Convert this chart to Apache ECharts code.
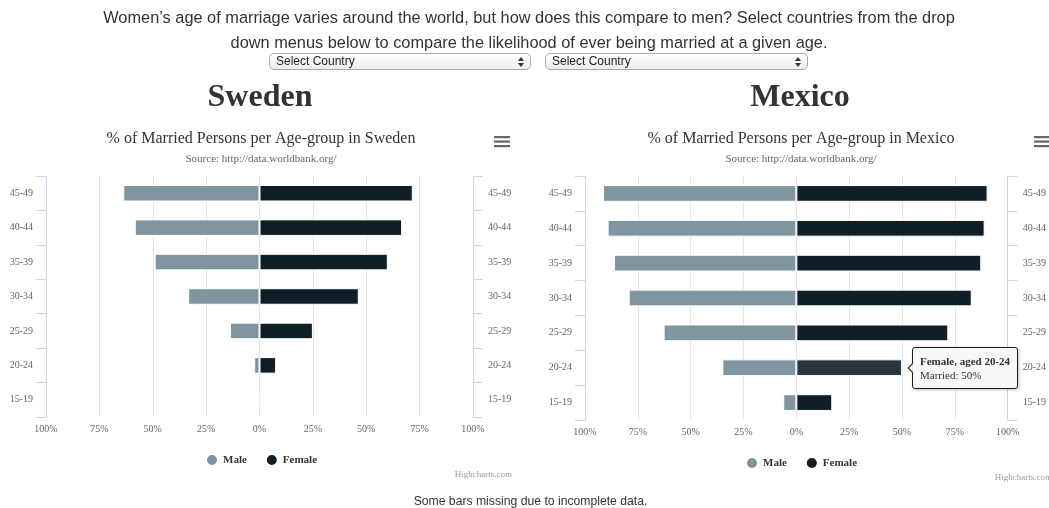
<!DOCTYPE html>
<html>
<head>
<meta charset="utf-8">
<script src="https://cdn.jsdelivr.net/npm/echarts@6/dist/echarts.min.js"></script>
<style>
html,body{margin:0;padding:0;background:#fff;width:1049px;height:508px;overflow:hidden;}
#chart{position:absolute;left:0;top:0;width:1049px;height:508px;}
.intro{position:absolute;left:0;width:1058px;text-align:center;font-family:"Liberation Sans",Arial,Helvetica,sans-serif;font-size:16.35px;color:#333;z-index:2;white-space:nowrap;}
.sel{position:absolute;top:53px;height:17px;box-sizing:border-box;border:1px solid #a9a9a9;border-radius:5px;background:linear-gradient(#ffffff,#ececec);font-family:"Liberation Sans",Arial,sans-serif;font-size:12px;line-height:15px;color:#222;padding-left:6px;z-index:2;}
.sel .arr{position:absolute;right:6px;top:3px;width:6px;height:10px;}
.sel .arr:before{content:"";position:absolute;left:0;top:0;border-left:3px solid transparent;border-right:3px solid transparent;border-bottom:4px solid #333;}
.sel .arr:after{content:"";position:absolute;left:0;top:6px;border-left:3px solid transparent;border-right:3px solid transparent;border-top:4px solid #333;}
.note{position:absolute;left:0;width:1061px;top:494px;text-align:center;font-family:"Liberation Sans",Arial,sans-serif;font-size:12.2px;color:#333;z-index:2;}
</style>
</head>
<body>
<div id="chart"></div>
<div class="intro" style="top:8px;">Women’s age of marriage varies around the world, but how does this compare to men? Select countries from the drop</div>
<div class="intro" style="top:33px;">down menus below to compare the likelihood of ever being married at a given age.</div>
<div class="sel" style="left:269px;width:262px;">Select Country<span class="arr"></span></div>
<div class="sel" style="left:545px;width:263px;">Select Country<span class="arr"></span></div>
<div class="note">Some bars missing due to incomplete data.</div>
<script>
// ---- data ----
const ageGroups = ['15-19', '20-24', '25-29', '30-34', '35-39', '40-44', '45-49'];
const swedenMale   = [null, 2.5, 13.8, 33.4, 49.1, 58.4, 63.8];
const swedenFemale = [0.7, 7.8, 25.0, 46.5, 60.1, 66.8, 71.8];
const mexicoMale   = [6.2, 35.0, 62.8, 79.3, 86.3, 89.3, 91.5];
const mexicoFemale = [17.0, 50.0, 71.9, 83.0, 87.5, 89.1, 90.5];
const countries = ['Sweden', 'Mexico'];
const seriesNames = ['Male', 'Female'];
const axisMin = -100, axisMax = 100, axisStep = 25;

// ---- styles ----
const SERIF = '"Liberation Serif","Times New Roman",Times,serif';
const MALE_COLOR = '#7f959f';
const FEMALE_COLOR = '#101e27';

const chart = echarts.init(document.getElementById('chart'), null, {renderer: 'canvas'});

const panels = [
  {grid: {left: 46, top: 176, width: 427, height: 241}, off: 0, legendTop: 453, credY: 475, labMargin: 7},
  {grid: {left: 585, top: 176, width: 428.5, height: 244}, off: 540, legendTop: 456, credY: 478, labMargin: 7}
];

const grids = [], xAxes = [], yAxes = [], series = [], legends = [], graphics = [];

function valueAxis(gi, margin) {
  return {
    type: 'value', gridIndex: gi, min: axisMin, max: axisMax, interval: axisStep,
    axisLine: {show: false}, axisTick: {show: false},
    splitLine: {show: true, lineStyle: {color: '#e6e6e6', width: 1}},
    axisLabel: {formatter: v => Math.abs(v) + '%', fontFamily: SERIF, fontSize: 10, color: '#666', margin: margin}
  };
}
function catAxis(gi, pos) {
  return {
    type: 'category', gridIndex: gi, position: pos, data: ageGroups,
    axisLine: {show: true, onZero: false, lineStyle: {color: '#ccd6eb', width: 1}},
    axisTick: {show: true, length: 10, lineStyle: {color: '#ccd6eb'}},
    axisLabel: {fontFamily: SERIF, fontSize: 10, color: '#666', margin: pos === 'left' ? 13 : 15},
    splitLine: {show: false}
  };
}

const dataSets = [[swedenMale, swedenFemale], [mexicoMale, mexicoFemale]];

panels.forEach((p, i) => {
  grids.push(Object.assign({containLabel: false}, p.grid));
  xAxes.push(valueAxis(i, p.labMargin));
  yAxes.push(catAxis(i, 'left'));
  yAxes.push(catAxis(i, 'right'));
  const [maleVals, femaleVals] = dataSets[i];
  series.push({
    name: seriesNames[0], type: 'bar', xAxisIndex: i, yAxisIndex: i * 2, stack: 'pyr' + i,
    barWidth: '48%',
    data: maleVals.map(v => v == null ? '-' : -v),
    itemStyle: {color: MALE_COLOR, borderColor: '#fff', borderWidth: 1},
    emphasis: {disabled: true}
  });
  series.push({
    name: seriesNames[1], type: 'bar', xAxisIndex: i, yAxisIndex: i * 2, stack: 'pyr' + i,
    barWidth: '48%',
    data: femaleVals.map(v => v == null ? '-' : v),
    itemStyle: {color: FEMALE_COLOR, borderColor: '#fff', borderWidth: 1},
    emphasis: i === 1 ? {itemStyle: {color: '#273640', borderColor: '#fff', borderWidth: 1}} : {disabled: true}
  });
  legends.push({
    data: seriesNames, left: 205 + p.off, top: p.legendTop, orient: 'horizontal', padding: 0,
    icon: 'circle', itemWidth: 12, itemHeight: 12, itemGap: 18,
    textStyle: {fontFamily: SERIF, fontSize: 11, fontWeight: 'bold', color: '#333'}
  });
  // country heading
  graphics.push({type: 'text', x: 260 + p.off, y: 98, style: {text: countries[i], font: 'bold 32px ' + SERIF, fill: '#333', align: 'center', verticalAlign: 'middle'}});
  // chart title & subtitle
  graphics.push({type: 'text', x: 261 + p.off, y: 139, style: {text: '% of Married Persons per Age-group in ' + countries[i], font: '16px ' + SERIF, fill: '#333', align: 'center', verticalAlign: 'middle'}});
  graphics.push({type: 'text', x: 261 + p.off, y: 159, style: {text: 'Source: http://data.worldbank.org/', font: '11px ' + SERIF, fill: '#666', align: 'center', verticalAlign: 'middle'}});
  // credits
  graphics.push({type: 'text', x: 512 + p.off, y: p.credY, style: {text: 'Highcharts.com', font: '9px ' + SERIF, fill: '#999', align: 'right', verticalAlign: 'middle'}});
  // context menu icon
  [136, 140.5, 145].forEach(yy => {
    graphics.push({type: 'rect', shape: {x: 494 + p.off, y: yy, width: 16, height: 2.2}, style: {fill: '#666'}});
  });
});

const option = {
  animation: false,
  backgroundColor: '#fff',
  grid: grids,
  xAxis: xAxes,
  yAxis: yAxes,
  legend: legends,
  series: series,
  graphic: graphics,
  tooltip: {
    trigger: 'item', position: 'right', alwaysShowContent: true, transitionDuration: 0,
    backgroundColor: 'rgba(247,247,247,0.92)', borderColor: FEMALE_COLOR, borderWidth: 1, borderRadius: 3,
    padding: [6, 7],
    textStyle: {fontFamily: SERIF, fontSize: 11, color: '#333'},
    extraCssText: 'box-shadow:1px 1px 3px rgba(0,0,0,0.25);line-height:14px;',
    formatter: p => '<b>' + p.seriesName + ', aged ' + p.name + '</b><br/>Married: ' + Math.round(Math.abs(p.value)) + '%'
  }
};
chart.setOption(option);
const tipIndex = ageGroups.indexOf('20-24');
chart.dispatchAction({type: 'highlight', seriesIndex: 3, dataIndex: tipIndex});
chart.dispatchAction({type: 'showTip', seriesIndex: 3, dataIndex: tipIndex});
</script>
</body>
</html>
